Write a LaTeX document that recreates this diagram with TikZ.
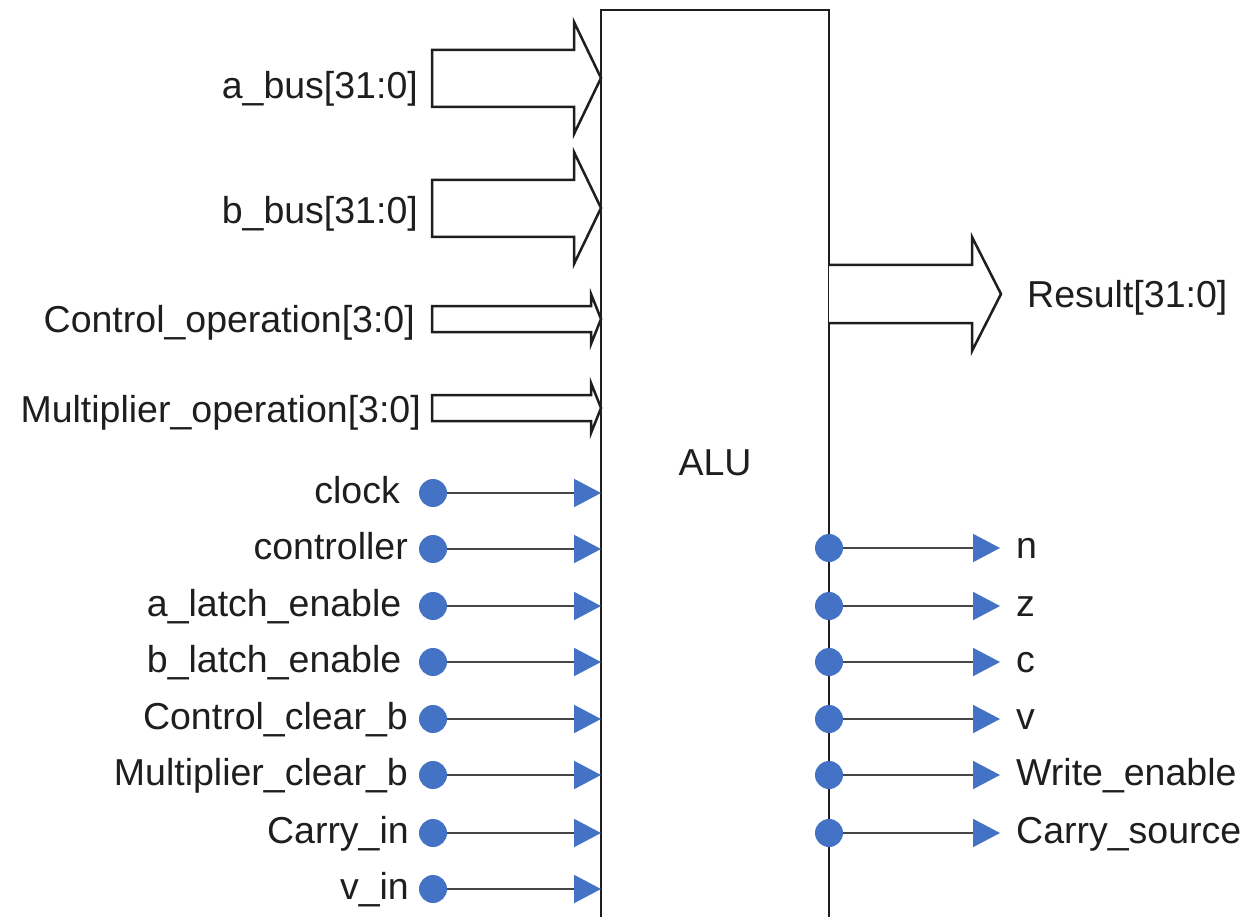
\documentclass[tikz,border=0pt]{standalone}
\usepackage{fontspec}
\setmainfont{Liberation Sans}
\usetikzlibrary{arrows.meta}
\definecolor{sigblue}{RGB}{68,114,196}
\definecolor{wire}{RGB}{70,70,70}
\definecolor{ink}{RGB}{30,30,30}
\begin{document}
\begin{tikzpicture}[x=1pt,y=-1pt,
  lbl/.style={font=\fontsize{37.5}{45}\selectfont, inner sep=0pt, text=ink},
  pin/.style={circle, fill=sigblue, minimum size=28pt, inner sep=0pt},
  sig/.style={draw=wire, line width=2pt, -{Triangle[length=27pt,width=28pt,sigblue]}},
  bus/.style={draw=ink, line width=2.5pt, fill=white, line join=miter},
  block/.style={draw=ink, line width=2.5pt, fill=white, inner sep=0pt, outer sep=0pt}]
\useasboundingbox (0,0) rectangle (1252,917);

% ALU block (runs past the lower edge)
\node[block, minimum width=228pt, minimum height=960pt, anchor=north west] (alu) at (601,10) {};
\node[lbl, anchor=base] (alulbl) at (715,475) {ALU};

% wide input buses
\draw[bus] (432,50) -- (574,50) -- (574,22) -- (601,78) -- (574,134) -- (574,107) -- (432,107) -- cycle;
\draw[bus] (432,180) -- (574,180) -- (574,152) -- (601,208) -- (574,264) -- (574,237) -- (432,237) -- cycle;
\draw[bus] (432,306) -- (591,306) -- (591,294) -- (601,319) -- (591,344) -- (591,332) -- (432,332) -- cycle;
\draw[bus] (432,395) -- (591,395) -- (591,383) -- (601,408) -- (591,433) -- (591,421) -- (432,421) -- cycle;
\node[lbl, anchor=base east] (abus) at (418,99) {a\_bus[31:0]};
\node[lbl, anchor=base east] (bbus) at (418,224) {b\_bus[31:0]};
\node[lbl, anchor=base east] (ctrlop) at (415,332) {Control\_operation[3:0]};
\node[lbl, anchor=base east] (mulop) at (421,422) {Multiplier\_operation[3:0]};

% output bus
\draw[bus] (829,265) -- (972,265) -- (972,237) -- (1001,294) -- (972,351) -- (972,323) -- (829,323);
\node[lbl, anchor=base west] (result) at (1027,307) {Result[31:0]};

% single-bit inputs
\foreach \nm/\y/\lx/\txt in {
  clk/493/400/clock,
  ctl/549/408/controller,
  ale/606/401.5/a\_latch\_enable,
  ble/662/401.5/b\_latch\_enable,
  ccb/719/408/Control\_clear\_b,
  mcb/775/408/Multiplier\_clear\_b,
  cin/833/409/Carry\_in,
  vin/889/409/v\_in}{
  \node[pin] (\nm) at (433,\y) {};
  \node[lbl, anchor=base east] (\nm lbl) at (\lx,\y+10) {\txt};
  \draw[sig] (\nm) -- (\nm -| alu.west);
}

% single-bit outputs
\foreach \nm/\y/\txt in {
  on/548/n,
  oz/606/z,
  oc/662/c,
  ov/719/v,
  owe/775/Write\_enable,
  ocs/833/Carry\_source}{
  \coordinate (\nm end) at (1000,\y);
  \node[pin] (\nm) at (829,\y) {};
  \draw[sig] (\nm) -- (\nm end);
  \node[lbl, anchor=base west] (\nm lbl) at (1016,\y+10) {\txt};
}
\end{tikzpicture}
\end{document}
